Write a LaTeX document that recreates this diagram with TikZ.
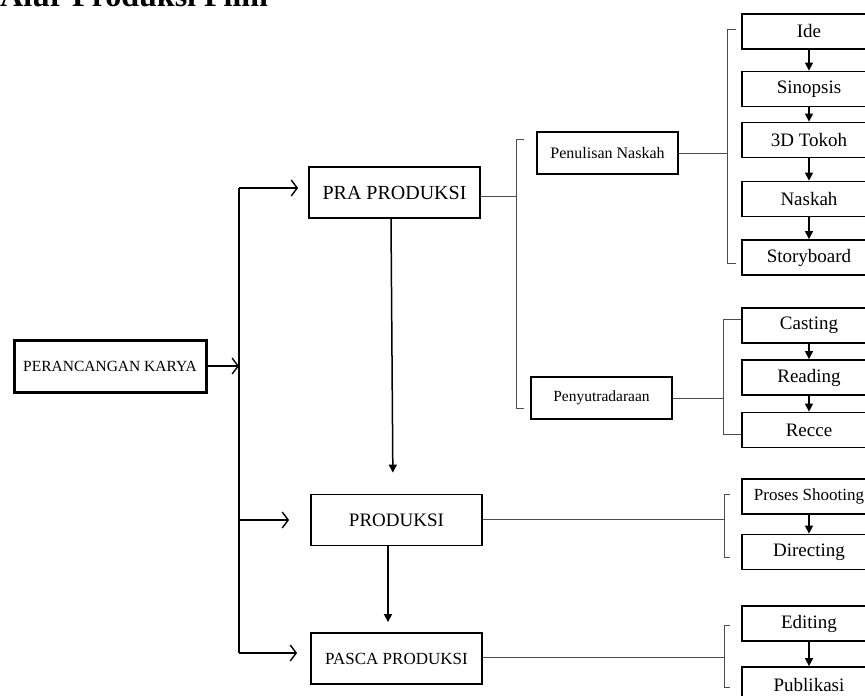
\documentclass[tikz,border=0pt]{standalone}
\usepackage{fontspec}
\setmainfont{Liberation Serif}
\usetikzlibrary{arrows.meta,calc}
\tikzset{
  box/.style={draw, line width=1.8pt, inner sep=0pt, align=center},
  rbox/.style={box, minimum width=134pt, minimum height=35pt, font=\fontsize{19}{22}\selectfont},
  mid/.style={box, minimum width=171pt, minimum height=51pt},
  sub/.style={box, minimum width=141pt, minimum height=42pt},
  conn/.style={line width=1.5pt},
  thin/.style={line width=0.9pt, draw=black!70},
  openarr/.style={conn, -{Straight Barb[length=6pt,width=16pt,line width=1.4pt]}},
  fillarr/.style={conn, -{Triangle[length=8pt,width=8pt]}},
}
\begin{document}
\begin{tikzpicture}[x=1pt,y=-1pt]
\useasboundingbox (0,0) rectangle (865,696);
\clip (0,0) rectangle (865,696);
\node[anchor=base west, inner sep=0pt, font=\bfseries\fontsize{32}{36}\selectfont] (title) at (0,6) {Alur Produksi Film};

% main column
\node[box, line width=3pt, minimum width=192pt, minimum height=52pt, font=\fontsize{15.5}{18}\selectfont] (pk) at (110,366) {PERANCANGAN KARYA};
\node[mid, font=\fontsize{20}{24}\selectfont] (pra) at (394.5,192.5) {PRA PRODUKSI};
\node[mid, font=\fontsize{19}{22}\selectfont] (prod) at (396.5,520) {PRODUKSI};
\node[mid, font=\fontsize{17}{20}\selectfont] (pasca) at (396.5,658.5) {PASCA PRODUKSI};

% sub boxes
\node[sub, font=\fontsize{16}{19}\selectfont] (pn) at (607.5,153) {Penulisan Naskah};
\node[sub, font=\fontsize{15.5}{18}\selectfont] (py) at (601.5,398) {Penyutradaraan};

% right column
\node[rbox] (ide) at (809,31.5) {Ide};
\node[rbox] (sin) at (809,89) {Sinopsis};
\node[rbox] (tok) at (809,140) {3D Tokoh};
\node[rbox] (nas) at (809,199) {Naskah};
\node[rbox] (sto) at (809,257.5) {Storyboard};
\node[rbox] (cas) at (809,325.5) {Casting};
\node[rbox] (rea) at (809,377.5) {Reading};
\node[rbox] (rec) at (809,430) {Recce};
\node[rbox, font=\fontsize{17}{20}\selectfont] (pro) at (809,496.5) {Proses Shooting};
\node[rbox] (dir) at (809,552) {Directing};
\node[rbox] (edi) at (809,623.5) {Editing};
\node[rbox] (pub) at (809,684.5) {Publikasi};

% trunk
\coordinate (t1) at (239,188);
\coordinate (t2) at (239,366);
\coordinate (t3) at (239,520);
\coordinate (t4) at (239,653);
\draw[conn] (t1) -- (t4);
\draw[openarr] (pk.east) -- (t2);
\draw[openarr, shorten >=10pt] (t1) -- (t1 -| pra.west);
\draw[openarr, shorten >=21pt] (t3) -- (t3 -| prod.west);
\draw[openarr, shorten >=13pt] (t4) -- (t4 -| pasca.west);

% vertical flow
\draw[fillarr, shorten >=21pt] ([xshift=-3.5pt]pra.south) -- ([xshift=-3.5pt]prod.north);
\draw[fillarr, shorten >=10pt] ([xshift=-8.5pt]prod.south) -- ([xshift=-8.5pt]pasca.north);

% big bracket from PRA
\coordinate (b1) at (516,196);
\draw[thin] (pra.east |- b1) -- (b1);
\draw[thin] (524,139) -- (516,139) -- (516,408) -- (524,408);

% bracket Penulisan Naskah
\coordinate (b2) at (727,153);
\draw[thin] (pn.east) -- (b2);
\draw[thin] (736,29) -- (727,29) -- (727,263) -- (736,263);

% bracket Penyutradaraan
\coordinate (b3) at (723,398);
\draw[thin] (py.east) -- (b3);
\draw[thin] (741,319) -- (723,319) -- (723,434) -- (741,434);

% bracket Produksi
\coordinate (b4) at (724,519);
\draw[thin] (prod.east |- b4) -- (b4);
\draw[thin] (730,494) -- (724,494) -- (724,557) -- (730,557);

% bracket Pasca
\coordinate (b5) at (724,657);
\draw[thin] (pasca.east |- b5) -- (b5);
\draw[thin] (730,625) -- (724,625) -- (724,687) -- (730,687);

% right arrows
\foreach \a/\b in {ide/sin, sin/tok, tok/nas, nas/sto, cas/rea, rea/rec, pro/dir, edi/pub}{
  \draw[fillarr] (\a.south) -- (\b.north);
}
\end{tikzpicture}
\end{document}
